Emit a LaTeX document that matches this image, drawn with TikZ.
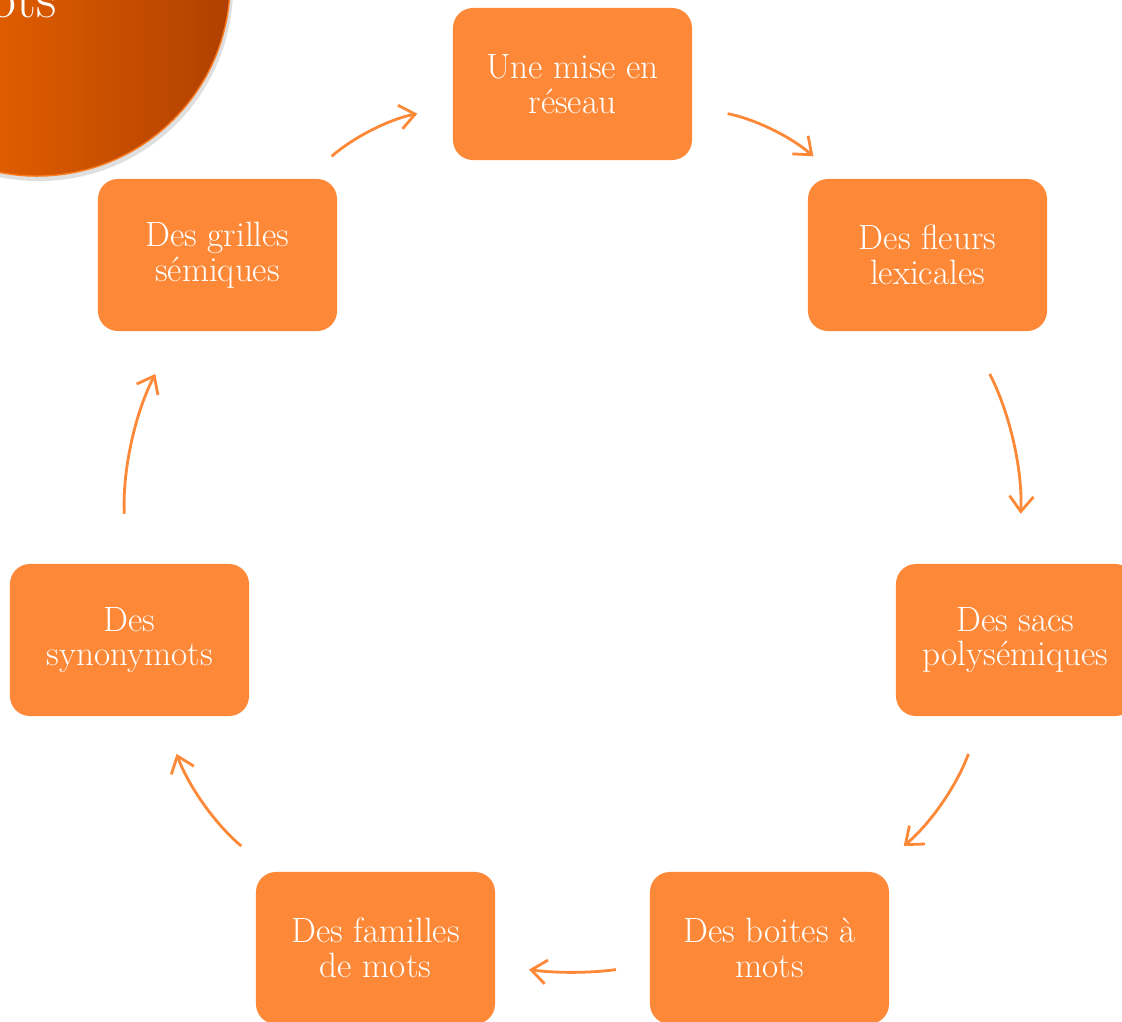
\documentclass[tikz,border=0pt]{standalone}
\usepackage{tikz}
\usetikzlibrary{arrows.meta}
\definecolor{boxorange}{RGB}{253,137,56}
\definecolor{disclight}{RGB}{255,112,0}
\definecolor{discdark}{RGB}{176,64,0}
\definecolor{discrim}{RGB}{250,122,30}
\tikzset{
  mot/.style={fill=boxorange, rounded corners=0.5cm, minimum width=5.975cm,
    minimum height=3.8cm, inner sep=0pt, text=white, align=center,
    font=\fontsize{25}{24.5}\selectfont},
  cycle/.style={draw=boxorange, line width=2pt, bend left=15,
    -{Straight Barb[length=0.38cm,width=0.6cm]}},
}

\begin{document}
\begin{tikzpicture}[x=0.025cm, y=-0.025cm]
    \useasboundingbox (0,0) rectangle (1122,1021);

    % disc of the title, top left
    \fill[gray!50, opacity=0.5] (39,-13) circle (4.85cm);
    \shade[left color=disclight, right color=discdark, draw=discrim, line width=1pt]
        (37,-17) circle (4.825cm);
    \node[anchor=base east, text=white, font=\fontsize{40}{48}\selectfont, inner sep=0pt]
        (titre) at (57,17) {mots};

    % the seven boxes
    \node[mot] (reseau) at (572.5,84) {Une mise en\\réseau};
    \node[mot] (fleurs) at (927.5,255) {Des fleurs\\lexicales};
    \node[mot] (sacs) at (1015.5,640) {Des sacs\\polysémiques};
    \node[mot] (boites) at (769.5,948) {Des boites à\\mots};
    \node[mot] (familles) at (375.5,948) {Des familles\\de mots};
    \node[mot] (synonymots) at (129.5,640) {Des\\synonymots};
    \node[mot] (grilles) at (217.5,255) {Des grilles\\sémiques};

    % the cycle
    \draw[cycle, shorten <=0.85cm, shorten >=0.9cm] (grilles) to (reseau);
    \draw[cycle, shorten <=0.9cm, shorten >=0.85cm] (reseau) to (fleurs);
    \draw[cycle, shorten <=1.2cm, shorten >=1.25cm] (fleurs) to (sacs);
    \draw[cycle, shorten <=1cm, shorten >=1cm] (sacs) to (boites);
    \draw[cycle, bend left=8, shorten <=0.85cm, shorten >=0.85cm] (boites) to (familles);
    \draw[cycle, shorten <=1cm, shorten >=1cm] (familles) to (synonymots);
    \draw[cycle, shorten <=1.25cm, shorten >=1.2cm] (synonymots) to (grilles);

\end{tikzpicture}
\end{document}
